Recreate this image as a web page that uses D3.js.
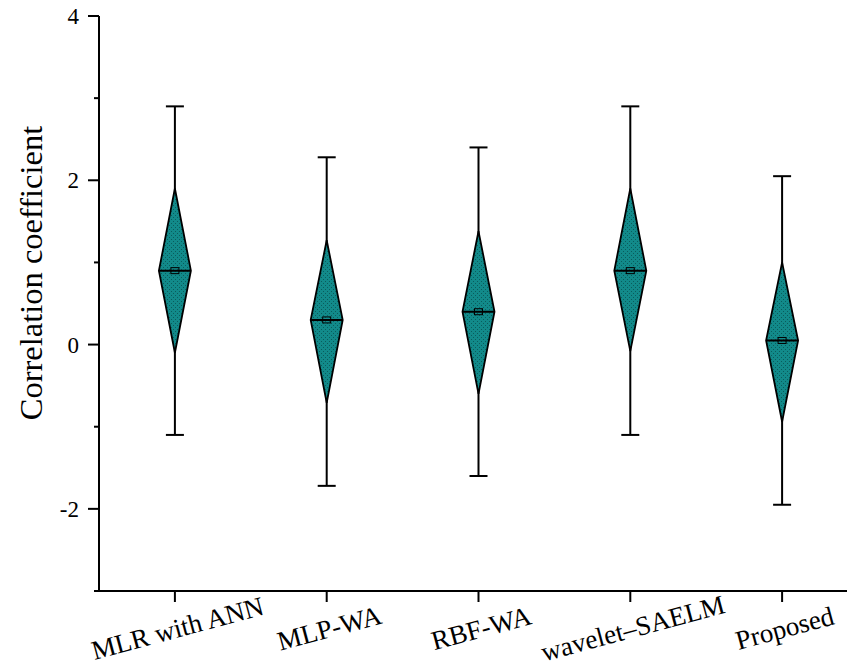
<!DOCTYPE html>
<html>
<head>
<meta charset="utf-8">
<script src="https://cdn.jsdelivr.net/npm/d3@7"></script>
<style>
  html, body { margin: 0; padding: 0; background: #fff; }
  svg { display: block; font-family: "Times New Roman", "Liberation Serif", serif; }
</style>
</head>
<body>
<svg id="chart" width="847" height="668"></svg>
<script>
const categories = ["MLR with ANN", "MLP-WA", "RBF-WA", "wavelet\u2013SAELM", "Proposed"];
const means        = [0.9, 0.3, 0.4, 0.9, 0.05];
const medians      = [0.9, 0.3, 0.4, 0.9, 0.05];
const boxUpper     = [1.9, 1.27, 1.38, 1.9, 1.0];
const boxLower     = [-0.1, -0.71, -0.6, -0.08, -0.94];
const whiskerUpper = [2.9, 2.28, 2.4, 2.9, 2.05];
const whiskerLower = [-1.1, -1.72, -1.6, -1.1, -1.95];
const majorTicks = [-2, 0, 2, 4];
const minorTicks = [-3, -1, 1, 3];
const yLabel = "Correlation coefficient";

(function () {
const rows = categories.map((c, i) => ({
  cat: c, mean: means[i], median: medians[i],
  q3: boxUpper[i], q1: boxLower[i], hi: whiskerUpper[i], lo: whiskerLower[i]
}));

const svg = d3.select("#chart");
const plotLeft = 99, plotBottom = 591, plotTop = 16;

const x = d3.scalePoint().domain(categories).range([plotLeft, 858]).padding(0.5);
const y = d3.scaleLinear().domain([-3, 4]).range([plotBottom, plotTop]);

const defs = svg.append("defs");
const pat = defs.append("pattern").attr("id", "dots").attr("patternUnits", "userSpaceOnUse")
  .attr("width", 4).attr("height", 4);
pat.append("rect").attr("width", 4).attr("height", 4).attr("fill", "#128a8a");
pat.append("rect").attr("x", 1).attr("y", 1).attr("width", 1).attr("height", 1).attr("fill", "#0a5c5c");
pat.append("rect").attr("x", 3).attr("y", 3).attr("width", 1).attr("height", 1).attr("fill", "#0a5c5c");

const halfW = 16, capW = 9;

const g = svg.append("g");
rows.forEach(d => {
  const cx = x(d.cat);
  g.append("line").attr("x1", cx).attr("x2", cx).attr("y1", y(d.hi)).attr("y2", y(d.lo))
    .attr("stroke", "#000").attr("stroke-width", 2);
  [d.hi, d.lo].forEach(v => {
    g.append("line").attr("x1", cx - capW).attr("x2", cx + capW).attr("y1", y(v)).attr("y2", y(v))
      .attr("stroke", "#000").attr("stroke-width", 2);
  });
  const pts = [[cx, y(d.q3)], [cx + halfW, y(d.median)], [cx, y(d.q1)], [cx - halfW, y(d.median)]];
  g.append("path").attr("d", "M" + pts.map(p => p.join(",")).join("L") + "Z")
    .attr("fill", "url(#dots)").attr("stroke", "#000").attr("stroke-width", 1.8)
    .attr("stroke-linejoin", "miter");
  g.append("line").attr("x1", cx - halfW).attr("x2", cx + halfW).attr("y1", y(d.median)).attr("y2", y(d.median))
    .attr("stroke", "#000").attr("stroke-width", 2);
  g.append("rect").attr("x", cx - 4).attr("y", y(d.mean) - 3).attr("width", 8).attr("height", 6)
    .attr("fill", "none").attr("stroke", "#000").attr("stroke-width", 1);
});

// Y axis
const yAxis = svg.append("g").attr("transform", `translate(${plotLeft},0)`);
yAxis.append("line").attr("x1", 0).attr("x2", 0).attr("y1", plotTop).attr("y2", plotBottom + 1)
  .attr("stroke", "#000").attr("stroke-width", 2);
majorTicks.forEach(t => {
  yAxis.append("line").attr("x1", -11).attr("x2", 0).attr("y1", y(t)).attr("y2", y(t))
    .attr("stroke", "#000").attr("stroke-width", 2);
  yAxis.append("text").attr("x", -20).attr("y", y(t)).attr("dy", "0.35em")
    .attr("text-anchor", "end").attr("font-size", 23).attr("fill", "#000")
    .text(t < 0 ? "-" + Math.abs(t) : String(t));
});
minorTicks.forEach(t => {
  yAxis.append("line").attr("x1", -5).attr("x2", 0).attr("y1", y(t)).attr("y2", y(t))
    .attr("stroke", "#000").attr("stroke-width", 2);
});

// X axis
const xAxis = svg.append("g").attr("transform", `translate(0,${plotBottom})`);
xAxis.append("line").attr("x1", plotLeft - 1).attr("x2", 847).attr("y1", 0).attr("y2", 0)
  .attr("stroke", "#000").attr("stroke-width", 2);
categories.forEach(c => {
  const cx = x(c);
  xAxis.append("line").attr("x1", cx).attr("x2", cx).attr("y1", 0).attr("y2", 11)
    .attr("stroke", "#000").attr("stroke-width", 2);
  xAxis.append("text")
    .attr("transform", `translate(${cx + 5},${46}) rotate(-15)`)
    .attr("text-anchor", "middle").attr("font-size", 27).attr("fill", "#000")
    .text(c);
});

// Y label
svg.append("text")
  .attr("transform", `translate(42,273) rotate(-90)`)
  .attr("text-anchor", "middle").attr("font-size", 32.5).attr("fill", "#000")
  .text(yLabel);
})();
</script>
</body>
</html>
